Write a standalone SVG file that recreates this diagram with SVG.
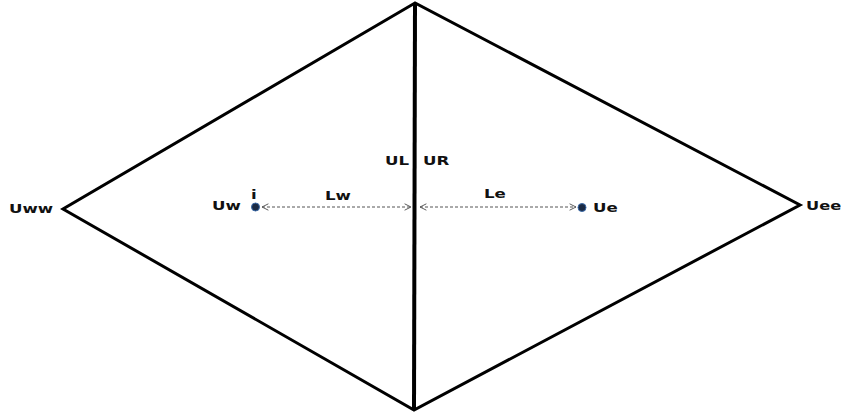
<svg xmlns="http://www.w3.org/2000/svg" width="841" height="417" viewBox="0 0 841 417">
<style>
.edge{fill:none;stroke:#000;stroke-width:3;stroke-linejoin:miter}
.dash{fill:none;stroke:#555;stroke-width:1;stroke-dasharray:3 2}
.lbl{font-family:"DejaVu Sans",sans-serif;font-weight:bold;font-size:12.5px;fill:#111}
.dot{fill:#1a2a44;stroke:#3b6aa8;stroke-width:1}
</style>
<defs>
<marker id="ah" viewBox="0 0 10 10" refX="9" refY="5" markerWidth="8" markerHeight="8" orient="auto-start-reverse" markerUnits="userSpaceOnUse">
<path d="M1,1 L9,5 L1,9" fill="none" stroke="#555" stroke-width="1.2"/>
</marker>
</defs>
<rect width="841" height="417" fill="#fff"/>
<g id="shape">
<path class="edge" d="M415,3 L63,209 L414,410 L800,205 Z"/>
<line x1="415" y1="3" x2="414" y2="410" stroke="#000" stroke-width="4"/>
</g>
<g id="connectors">
<line class="dash" x1="262" y1="207" x2="411" y2="207" marker-start="url(#ah)" marker-end="url(#ah)"/>
<line class="dash" x1="420" y1="207" x2="576" y2="207" marker-start="url(#ah)" marker-end="url(#ah)"/>
</g>
<g id="node-Uw">
<circle class="dot" cx="255.5" cy="207" r="4"/>
<text class="lbl" transform="translate(212,210) scale(1.33,1)">Uw</text>
<text class="lbl" transform="translate(251,199) scale(1.33,1)">i</text>
</g>
<g id="node-Ue">
<circle class="dot" cx="582" cy="207.5" r="4"/>
<text class="lbl" transform="translate(593,212) scale(1.33,1)">Ue</text>
</g>
<g id="labels">
<text class="lbl" transform="translate(9,213) scale(1.33,1)">Uww</text>
<text class="lbl" transform="translate(806,210) scale(1.3,1)">Uee</text>
<text class="lbl" transform="translate(325,200) scale(1.33,1)">Lw</text>
<text class="lbl" transform="translate(484,198) scale(1.33,1)">Le</text>
<text class="lbl" transform="translate(385,165) scale(1.33,1)">UL</text>
<text class="lbl" transform="translate(423,165) scale(1.33,1)">UR</text>
</g>
</svg>
